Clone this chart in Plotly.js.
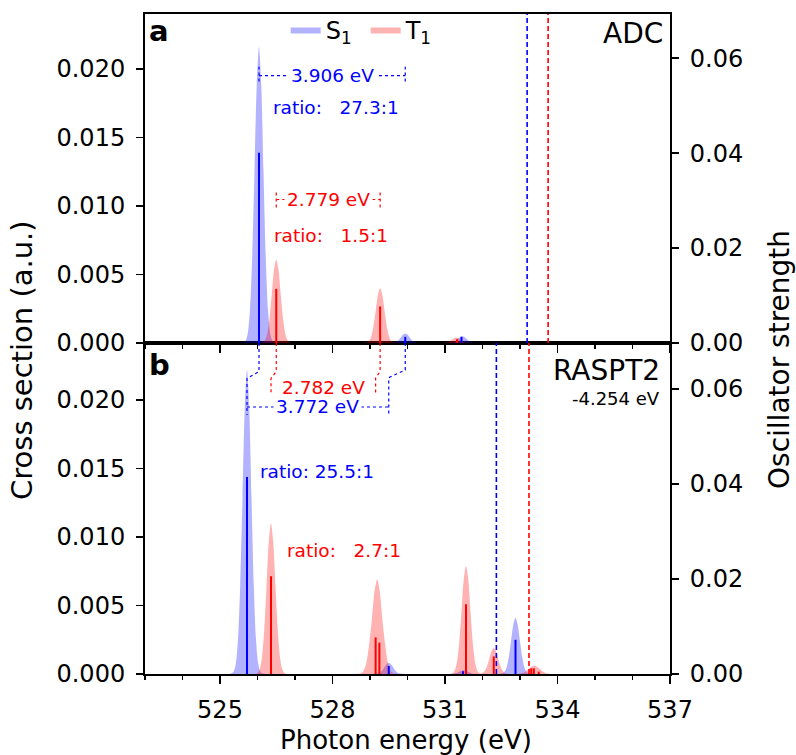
<!DOCTYPE html>
<html>
<head>
<meta charset="utf-8">
<script src="https://cdn.plot.ly/plotly-3.0.1.min.js"></script>
<style>html,body{margin:0;padding:0;background:#fff;}#chart{width:796px;height:755px;}</style>
</head>
<body>
<div id="chart"></div>
<script>
// ---------------- data: panel a (ADC) ----------------
const adcS1CurveE  = [523.0,
  525.58, 525.68, 525.74, 525.80, 525.86, 525.92, 525.98, 526.04, 526.10, 526.16, 526.22, 526.28, 526.34, 526.40, 526.50,
  529.48, 529.58, 529.64, 529.70, 529.76, 529.82, 529.88, 529.94, 530.00, 530.06, 530.12, 530.18, 530.24, 530.30, 530.40,
  531.00, 531.10, 531.16, 531.22, 531.28, 531.34, 531.40, 531.46, 531.52, 531.58, 531.64, 531.70, 531.76, 531.82, 531.92,
  537.0];
const adcS1CurveCS = [0,
  0, 0.00015, 0.00071, 0.00244, 0.00635, 0.01253, 0.01886, 0.0216, 0.01886, 0.01253, 0.00635, 0.00244, 0.00071, 0.00015, 0,
  0, 0, 0.00002, 0.00008, 0.00021, 0.00041, 0.00061, 0.0007, 0.00061, 0.00041, 0.00021, 0.00008, 0.00002, 0, 0,
  0, 0, 0.00002, 0.00006, 0.00015, 0.00029, 0.00044, 0.0005, 0.00044, 0.00029, 0.00015, 0.00006, 0.00002, 0, 0,
  0];
const adcT1CurveE  = [523.0,
  526.04, 526.14, 526.20, 526.26, 526.32, 526.38, 526.44, 526.50, 526.56, 526.62, 526.68, 526.74, 526.80, 526.86, 526.96,
  528.81, 528.91, 528.97, 529.03, 529.09, 529.15, 529.21, 529.27, 529.33, 529.39, 529.45, 529.51, 529.57, 529.63, 529.73,
  530.84, 530.94, 531.00, 531.06, 531.12, 531.18, 531.24, 531.30, 531.36, 531.42, 531.48, 531.54, 531.60, 531.66, 531.76,
  537.0];
const adcT1CurveCS = [0,
  0, 0.00004, 0.0002, 0.00069, 0.00179, 0.00354, 0.00533, 0.0061, 0.00533, 0.00354, 0.00179, 0.00069, 0.0002, 0.00004, 0,
  0, 0.00003, 0.00013, 0.00045, 0.00118, 0.00232, 0.00349, 0.0040, 0.00349, 0.00232, 0.00118, 0.00045, 0.00013, 0.00003, 0,
  0, 0, 0.00001, 0.00005, 0.00012, 0.00023, 0.00035, 0.0004, 0.00035, 0.00023, 0.00012, 0.00005, 0.00001, 0, 0,
  0];
const adcS1StickE = [526.04, 529.94, 531.44];
const adcS1StickF = [0.0401, 0.0013, 0.0013];
const adcT1StickE = [526.50, 529.27, 531.32];
const adcT1StickF = [0.0114, 0.0077, 0.0008];
const adcIonisation = [533.19, 533.75];          // S1 (blue), T1 (red)
const adcGapText   = ['3.906 eV', '2.779 eV'];    // S1, T1
const adcRatioText = ['ratio:   27.3:1', 'ratio:   1.5:1'];

// ---------------- data: panel b (RASPT2) ----------------
const rasS1CurveE  = [523.0,
  525.26, 525.36, 525.42, 525.48, 525.54, 525.60, 525.66, 525.72, 525.78, 525.84, 525.90, 525.96, 526.02, 526.08, 526.18,
  529.04, 529.14, 529.20, 529.26, 529.32, 529.38, 529.44, 529.50, 529.56, 529.62, 529.68, 529.74, 529.80, 529.86, 529.96,
  531.04, 531.14, 531.20, 531.26, 531.32, 531.38, 531.44, 531.50, 531.56, 531.62, 531.68, 531.74, 531.80, 531.86, 531.96,
  532.42, 532.52, 532.58, 532.64, 532.70, 532.76, 532.82, 532.88, 532.94, 533.00, 533.06, 533.12, 533.18, 533.24, 533.34,
  537.0];
const rasS1CurveCS = [0,
  0, 0.00016, 0.00073, 0.00251, 0.00653, 0.01288, 0.01938, 0.0222, 0.01938, 0.01288, 0.00653, 0.00251, 0.00073, 0.00016, 0,
  0, 0.00001, 0.00003, 0.00009, 0.00024, 0.00048, 0.00072, 0.00083, 0.00072, 0.00048, 0.00024, 0.00009, 0.00003, 0.00001, 0,
  0, 0, 0.00001, 0.00003, 0.00009, 0.00017, 0.00026, 0.0003, 0.00026, 0.00017, 0.00009, 0.00003, 0.00001, 0, 0,
  0, 0.00003, 0.00014, 0.00046, 0.00121, 0.00238, 0.00358, 0.0041, 0.00358, 0.00238, 0.00121, 0.00046, 0.00014, 0.00003, 0,
  0];
const rasT1CurveE  = [523.0,
  525.90, 526.00, 526.06, 526.12, 526.18, 526.24, 526.30, 526.36, 526.42, 526.48, 526.54, 526.60, 526.66, 526.72, 526.82,
  528.64, 528.76, 528.83, 528.90, 528.97, 529.05, 529.12, 529.19, 529.26, 529.33, 529.41, 529.48, 529.55, 529.62, 529.74,
  531.10, 531.20, 531.26, 531.32, 531.38, 531.44, 531.50, 531.56, 531.62, 531.68, 531.74, 531.80, 531.86, 531.94,
  532.00, 532.06, 532.12, 532.18, 532.24, 532.30, 532.36, 532.42, 532.48, 532.54, 532.60, 532.66, 532.76,
  532.78, 532.91, 532.99, 533.07, 533.15, 533.22, 533.30, 533.38, 533.46, 533.54, 533.61, 533.69, 533.77, 533.85, 533.98,
  537.0];
const rasT1CurveCS = [0,
  0, 0.00008, 0.00036, 0.00124, 0.00323, 0.00638, 0.0096, 0.0110, 0.0096, 0.00638, 0.00323, 0.00124, 0.00036, 0.00008, 0,
  0, 0.00005, 0.00023, 0.00078, 0.00203, 0.004, 0.00602, 0.0069, 0.00602, 0.004, 0.00203, 0.00078, 0.00023, 0.00005, 0,
  0, 0.00006, 0.00026, 0.00089, 0.00232, 0.00458, 0.0069, 0.0079, 0.0069, 0.00458, 0.00232, 0.00089, 0.00026, 0.00004,
  0.00007, 0.00021, 0.00056, 0.0011, 0.00166, 0.0019, 0.00166, 0.0011, 0.00056, 0.00021, 0.00006, 0.00001, 0,
  0, 0, 0.00002, 0.00007, 0.00018, 0.00035, 0.00052, 0.0006, 0.00052, 0.00035, 0.00018, 0.00007, 0.00002, 0, 0,
  0];
const rasS1StickE = [525.72, 529.50, 531.48, 532.88];
const rasS1StickF = [0.0415, 0.0017, 0.0006, 0.0072];
const rasT1StickE = [526.36, 529.15, 529.25, 531.56, 532.30, 533.30, 533.37, 533.50];
const rasT1StickF = [0.0206, 0.0077, 0.0066, 0.0147, 0.0037, 0.0012, 0.0012, 0.0005];
const rasIonisation = [532.37, 533.24];
const rasGapText   = ['3.772 eV', '2.782 eV'];
const rasRatioText = ['ratio: 25.5:1', 'ratio:   2.7:1'];
const rasShiftText = '-4.254 eV';

const panelLabels = ['a', 'b'];
const methodLabels = ['ADC', 'RASPT2'];
const seriesNames = ['S<sub>1</sub>', 'T<sub>1</sub>'];
const xTickVals = [525, 528, 531, 534, 537];
const xMinorVals = [523, 524, 526, 527, 529, 530, 532, 533, 535, 536];
const leftTickVals = [0, 0.005, 0.010, 0.015, 0.020];
const rightTickVals = [0, 0.02, 0.04, 0.06];

// ---------------- styling ----------------
const BLUE = '#0000ff', RED = '#ff0000';
const FILL_B = 'rgba(0,0,255,0.3)', FILL_R = 'rgba(255,0,0,0.3)';
const FONT = 'DejaVu Sans, sans-serif';

function fillTrace(x, y, color, xa, ya, name, show) {
  return {type: 'scatter', mode: 'lines', x: x, y: y, fill: 'tozeroy', fillcolor: color,
          line: {width: 0, shape: 'spline', smoothing: 0.8, color: color},
          xaxis: xa, yaxis: ya, name: name, showlegend: show, hoverinfo: 'skip'};
}
function stickTrace(e, f, color, xa, ya) {
  const x = [], y = [];
  e.forEach((v, i) => { x.push(v, v, null); y.push(0, f[i], null); });
  return {type: 'scatter', mode: 'lines', x: x, y: y, line: {color: color, width: 2},
          xaxis: xa, yaxis: ya, showlegend: false, hoverinfo: 'skip'};
}

const data = [
  fillTrace(adcS1CurveE, adcS1CurveCS, FILL_B, 'x2', 'y', seriesNames[0], true),
  fillTrace(adcT1CurveE, adcT1CurveCS, FILL_R, 'x2', 'y', seriesNames[1], true),
  stickTrace(adcS1StickE, adcS1StickF, BLUE, 'x2', 'y2'),
  stickTrace(adcT1StickE, adcT1StickF, RED, 'x2', 'y2'),
  fillTrace(rasS1CurveE, rasS1CurveCS, FILL_B, 'x', 'y3', seriesNames[0], false),
  fillTrace(rasT1CurveE, rasT1CurveCS, FILL_R, 'x', 'y3', seriesNames[1], false),
  stickTrace(rasS1StickE, rasS1StickF, BLUE, 'x', 'y4'),
  stickTrace(rasT1StickE, rasT1StickF, RED, 'x', 'y4')
];

// ---------------- shapes ----------------
const shapes = [];
function seg(xr, yr, x0, y0, x1, y1, color) {
  shapes.push({type: 'line', xref: xr, yref: yr, x0: x0, y0: y0, x1: x1, y1: y1,
               line: {color: color, width: 1.2, dash: 'dot'}});
}
function poly(xr, yr, pts, color) {
  shapes.push({type: 'path', xref: xr, yref: yr,
               path: 'M' + pts.map(p => p[0] + ',' + p[1]).join(' L'),
               line: {color: color, width: 1.2, dash: 'dot'}});
}
function ipLine(xr, yr, x, color) {
  shapes.push({type: 'line', xref: xr, yref: yr + ' domain', x0: x, x1: x, y0: 0, y1: 1,
               line: {color: color, width: 1.6, dash: '5px,3px'}});
}
// panel a brackets
seg('x2', 'y', adcS1StickE[0], 0.0195, adcS1StickE[1], 0.0195, BLUE);
seg('x2', 'y', adcS1StickE[0], 0.01907, adcS1StickE[0], 0.02016, BLUE);
seg('x2', 'y', adcS1StickE[1], 0.01907, adcS1StickE[1], 0.02016, BLUE);
seg('x2', 'y', adcT1StickE[0], 0.01047, adcT1StickE[1], 0.01047, RED);
seg('x2', 'y', adcT1StickE[0], 0.00989, adcT1StickE[0], 0.01103, RED);
seg('x2', 'y', adcT1StickE[1], 0.00989, adcT1StickE[1], 0.01103, RED);
// panel b connectors
poly('x', 'y3', [[adcS1StickE[0], 0.02416], [adcS1StickE[0], 0.02207], [rasS1StickE[0], 0.02158], [rasS1StickE[0], 0.0189]], BLUE);
poly('x', 'y3', [[adcS1StickE[1], 0.02416], [adcS1StickE[1], 0.02219], [rasS1StickE[1], 0.02163], [rasS1StickE[1], 0.0189]], BLUE);
seg('x', 'y3', rasS1StickE[0], 0.01949, rasS1StickE[1], 0.01949, BLUE);
poly('x', 'y3', [[adcT1StickE[0], 0.02416], [adcT1StickE[0], 0.02207], [rasT1StickE[0], 0.02158], [rasT1StickE[0], 0.02042]], RED);
poly('x', 'y3', [[adcT1StickE[1], 0.02416], [adcT1StickE[1], 0.02207], [rasT1StickE[1], 0.02163], [rasT1StickE[1], 0.02042]], RED);
// ionisation thresholds
ipLine('x2', 'y', adcIonisation[0], BLUE);
ipLine('x2', 'y', adcIonisation[1], RED);
ipLine('x', 'y3', rasIonisation[0], BLUE);
ipLine('x', 'y3', rasIonisation[1], RED);

// ---------------- annotations ----------------
const ann = [];
function txt(xr, yr, x, y, text, color, size, xanchor, extra) {
  ann.push(Object.assign({xref: xr, yref: yr, x: x, y: y, text: text, showarrow: false,
    xanchor: xanchor || 'center', yanchor: 'middle',
    font: {family: FONT, size: size, color: color}}, extra || {}));
}
const nb = s => s.replace(/ /g, '\u00a0');
txt('x2', 'y', (adcS1StickE[0] + adcS1StickE[1]) / 2, 0.0195, adcGapText[0], BLUE, 18.5, 'center', {bgcolor: 'white', borderpad: 2});
txt('x2', 'y', 526.36, 0.0172, nb(adcRatioText[0]), BLUE, 18.5, 'left');
txt('x2', 'y', (adcT1StickE[0] + adcT1StickE[1]) / 2, 0.01047, adcGapText[1], RED, 18.5, 'center', {bgcolor: 'white', borderpad: 2});
txt('x2', 'y', 526.39, 0.00787, nb(adcRatioText[1]), RED, 18.5, 'left');
txt('x', 'y3', (rasS1StickE[0] + rasS1StickE[1]) / 2, 0.01949, rasGapText[0], BLUE, 18.5, 'center', {bgcolor: 'white', borderpad: 2});
txt('x', 'y3', (rasT1StickE[0] + rasT1StickE[1]) / 2, 0.02093, rasGapText[1], RED, 18.5, 'center');
txt('x', 'y3', 526.02, 0.01477, nb(rasRatioText[0]), BLUE, 18.5, 'left');
txt('x', 'y3', 526.74, 0.0090, nb(rasRatioText[1]), RED, 18.5, 'left');
// panel labels
txt('paper', 'paper', 0.004, 0.975, '<b>' + panelLabels[0] + '</b>', 'black', 29, 'left');
txt('paper', 'paper', 0.004, 0.468, '<b>' + panelLabels[1] + '</b>', 'black', 29, 'left');
txt('paper', 'paper', 0.99, 0.971, methodLabels[0], 'black', 28, 'right');
txt('paper', 'paper', 0.984, 0.4606, methodLabels[1], 'black', 28, 'right');
txt('paper', 'paper', 0.984, 0.418, rasShiftText, 'black', 18, 'right');
// axis titles
txt('paper', 'paper', -0.234, 0.476, 'Cross section (a.u.)', 'black', 29, 'center', {textangle: -90});
txt('paper', 'paper', 1.245, 0.476, 'Oscillator strength', 'black', 28, 'right', {textangle: -90});
txt('paper', 'paper', 0.497, -0.1, 'Photon energy (eV)', 'black', 26, 'center');

// ---------------- layout ----------------
const SPLIT = 0.5015;
const tickFont = {family: FONT, size: 24, color: 'black'};
function xax(anchor, labels) {
  return {anchor: anchor, domain: [0, 1], range: [523, 537], tickvals: xTickVals,
          showticklabels: labels, ticks: 'outside', ticklen: 8, tickwidth: 1.5, tickcolor: 'black',
          ticklabelstandoff: 5,
          minor: {tickvals: xMinorVals, ticks: 'outside', ticklen: 4, tickwidth: 1.2, tickcolor: 'black'},
          showline: true, linewidth: 2, linecolor: 'black', mirror: true,
          showgrid: false, zeroline: false, tickfont: tickFont};
}
function yax(anchor, domain, range, vals, fmt, side, overlay) {
  const a = {anchor: anchor, range: range, tickvals: vals, tickformat: fmt, side: side,
             ticks: 'outside', ticklen: 7, tickwidth: 1.5, tickcolor: 'black',
             ticklabelstandoff: 6,
             showline: true, linewidth: 2, linecolor: 'black',
             showgrid: false, zeroline: false, tickfont: tickFont};
  if (overlay) a.overlaying = overlay; else a.domain = domain;
  return a;
}
const layout = {
  width: 796, height: 755,
  margin: {l: 145, r: 126, t: 14, b: 81, autoexpand: false},
  paper_bgcolor: 'white', plot_bgcolor: 'white',
  font: {family: FONT, color: 'black'},
  xaxis: xax('y3', true),
  xaxis2: Object.assign(xax('y', false), {matches: 'x'}),
  yaxis: yax('x2', [SPLIT, 1], [0, 0.024], leftTickVals, '.3f', 'left'),
  yaxis2: yax('x2', null, [0, 0.0693], rightTickVals, '.2f', 'right', 'y'),
  yaxis3: yax('x', [0, SPLIT], [0, 0.02416], leftTickVals, '.3f', 'left'),
  yaxis4: yax('x', null, [0, 0.0697], rightTickVals, '.2f', 'right', 'y3'),
  showlegend: true,
  legend: {orientation: 'h', x: 0.268, y: 1.01, xanchor: 'left', yanchor: 'top',
           entrywidth: 35, entrywidthmode: 'pixels',
           bgcolor: 'rgba(0,0,0,0)', font: {family: FONT, size: 24, color: 'black'},
           traceorder: 'normal'},
  shapes: shapes,
  annotations: ann
};
Plotly.newPlot('chart', data, layout, {staticPlot: true});
</script>
</body>
</html>
